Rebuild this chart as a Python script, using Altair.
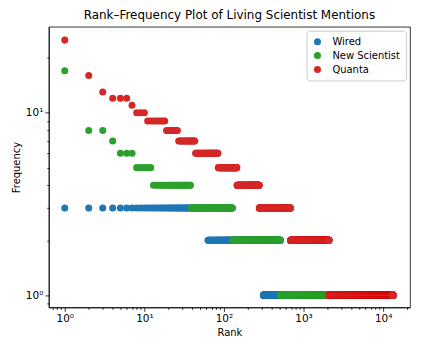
import altair as alt
import pandas as pd

# frequency levels and number of names at each level (ranks are consecutive)
series_names = ["Wired", "New Scientist", "Quanta"]
wired_freq = [3, 2, 1]
wired_count = [62, 250, 290]
ns_freq = [17, 8, 7, 6, 5, 4, 3, 2, 1]
ns_count = [1, 2, 1, 3, 5, 26, 90, 383, 1489]
quanta_freq = [25, 16, 13, 12, 11, 10, 9, 8, 7, 6, 5, 4, 3, 2, 1]
quanta_count = [1, 1, 1, 3, 1, 3, 8, 8, 17, 41, 61, 132, 408, 1395, 11220]
colors = ["#1f77b4", "#2ca02c", "#d62728"]

x_major = [1, 10, 100, 1000, 10000]
x_minor = [0.7, 0.8, 0.9] + [m * 10 ** e for e in range(0, 4) for m in range(2, 10)] + [20000]
y_major = [1, 10]
y_minor = [0.9] + list(range(2, 10)) + [20]

rows = []
for name, freqs, counts in zip(series_names,
                               [wired_freq, ns_freq, quanta_freq],
                               [wired_count, ns_count, quanta_count]):
    rank = 1
    for f, c in zip(freqs, counts):
        for _ in range(c):
            rows.append({"Rank": rank, "Frequency": f, "Source": name})
            rank += 1
df = pd.DataFrame(rows)

sup = {0: "⁰", 1: "¹", 2: "²", 3: "³", 4: "⁴"}
x_label_expr = " : ".join(f"datum.value == {v} ? '10{sup[i]}'" for i, v in enumerate(x_major)) + " : ''"
y_label_expr = " : ".join(f"datum.value == {v} ? '10{sup[i]}'" for i, v in enumerate(y_major)) + " : ''"

def tick_size(majors):
    arr = ",".join(str(v) for v in majors)
    return {"condition": {"test": f"indexof([{arr}], datum.value) >= 0", "value": 4}, "value": 2}

chart = alt.Chart(df).mark_circle(size=50, opacity=1).encode(
    x=alt.X("Rank:Q",
            scale=alt.Scale(type="log", domain=[0.63, 21750], nice=False),
            axis=alt.Axis(title="Rank", values=x_major + x_minor, labelExpr=x_label_expr,
                          tickSize=tick_size(x_major), labelOverlap=False, labelFlush=False)),
    y=alt.Y("Frequency:Q",
            scale=alt.Scale(type="log", domain=[0.857, 29.6], nice=False),
            axis=alt.Axis(title="Frequency", values=y_major + y_minor, labelExpr=y_label_expr,
                          tickSize=tick_size(y_major), labelOverlap=False, labelFlush=False)),
    color=alt.Color("Source:N",
                    scale=alt.Scale(domain=series_names, range=colors),
                    sort=series_names,
                    legend=alt.Legend(title=None, orient="top-right", offset=4,
                                      fillColor="white", strokeColor="#cccccc",
                                      cornerRadius=3, padding=6, symbolType="circle",
                                      symbolSize=50, labelFontSize=10, rowPadding=4,
                                      labelOffset=10)),
    order=alt.Order("idx:Q"),
).transform_window(idx="row_number()").properties(
    width=363, height=282,
    title=alt.Title("Rank–Frequency Plot of Living Scientist Mentions",
                    fontSize=12, fontWeight="normal", font="DejaVu Sans", offset=5,
                    anchor="middle", color="black"),
    autosize="none",
    padding={"left": 41, "top": 18, "right": 5, "bottom": 40},
).configure_axis(
    grid=False, domainColor="black", tickColor="black", labelColor="black",
    titleColor="black", labelFont="DejaVu Sans", titleFont="DejaVu Sans",
    labelFontSize=10.5, titleFontSize=10, titleFontWeight="normal", domainWidth=0.8,
    tickWidth=0.8,
).configure_view(stroke="black", strokeWidth=0.8).configure_legend(
    labelFont="DejaVu Sans", labelColor="black"
)

chart.save("out.html", embed_options={"renderer": "svg", "actions": False})
